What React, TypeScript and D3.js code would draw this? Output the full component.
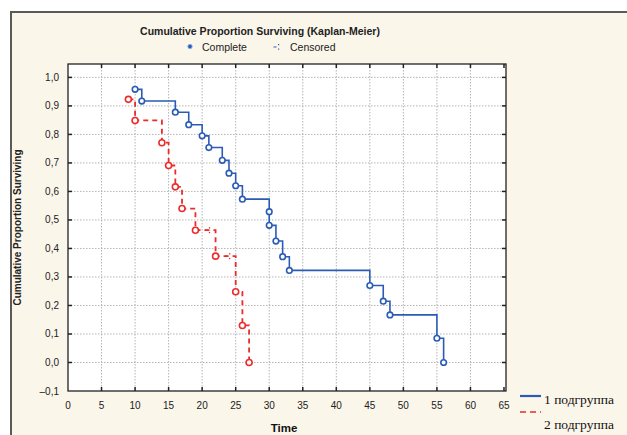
import { useEffect, useRef } from 'react'
import * as d3 from 'd3'

// group 1 (complete events)
const times1 = [10, 11, 16, 18, 20, 21, 23, 24, 25, 26, 30, 30, 31, 32, 33, 45, 47, 48, 55, 56]
const surv1 = [0.958, 0.917, 0.878, 0.834, 0.795, 0.754, 0.709, 0.664, 0.62, 0.573, 0.529, 0.481, 0.426, 0.371, 0.323, 0.27, 0.215, 0.167, 0.085, 0.0]

// group 2
const times2 = [9, 10, 14, 15, 16, 17, 19, 22, 25, 26, 27]
const surv2 = [0.923, 0.849, 0.771, 0.691, 0.616, 0.54, 0.464, 0.373, 0.248, 0.13, 0.0]
const censTimes2 = [21, 24]
const censSurv2 = [0.464, 0.373]

const xTicks = [0, 5, 10, 15, 20, 25, 30, 35, 40, 45, 50, 55, 60, 65]
const yTicks = [-0.1, 0, 0.1, 0.2, 0.3, 0.4, 0.5, 0.6, 0.7, 0.8, 0.9, 1.0]
const legendLabels = ['1 подгруппа', '2 подгруппа']

const BLUE = '#2a5cb6'
const RED = '#ec2b2b'
const FONT = 'Arial, "Liberation Sans", sans-serif'
const SERIF = '"Liberation Serif", "Times New Roman", serif'

export default function App() {
  const svgRef = useRef<SVGSVGElement>(null)

  useEffect(() => {
    const svg = d3.select(svgRef.current)
    svg.selectAll('*').remove()

    const W = 627, H = 435
    const left = 68, right = 506, top = 64, bottom = 391

    // outer panel
    svg.append('rect').attr('width', W).attr('height', H).attr('fill', '#fff')
    svg.append('rect')
      .attr('x', 11).attr('y', 12).attr('width', W).attr('height', H)
      .attr('fill', '#fbf6ea')
      .attr('stroke', '#5a5a5a').attr('stroke-width', 2)

    const x = d3.scaleLinear().domain([0, 65.3]).range([left, right])
    const y = d3.scaleLinear().domain([-0.1, 1.047]).range([bottom, top])

    // plot area
    svg.append('rect')
      .attr('x', left).attr('y', top)
      .attr('width', right - left).attr('height', bottom - top)
      .attr('fill', '#fff')

    // grid
    const grid = svg.append('g').attr('stroke', '#b4b4b4').attr('stroke-width', 1).attr('stroke-dasharray', '1.5,1.5')
    xTicks.filter(t => t > 0 && t < 65).forEach(t => {
      grid.append('line').attr('x1', x(t)).attr('x2', x(t)).attr('y1', top).attr('y2', bottom)
    })
    yTicks.filter(t => t > -0.1).forEach(t => {
      grid.append('line').attr('x1', left).attr('x2', right).attr('y1', y(t)).attr('y2', y(t))
    })

    // frame + inward ticks
    svg.append('rect')
      .attr('x', left).attr('y', top)
      .attr('width', right - left).attr('height', bottom - top)
      .attr('fill', 'none').attr('stroke', '#222').attr('stroke-width', 1.3)

    const ticks = svg.append('g').attr('stroke', '#222').attr('stroke-width', 1.5)
    xTicks.filter(t => t > 0).forEach(t => {
      ticks.append('line').attr('x1', x(t)).attr('x2', x(t)).attr('y1', top).attr('y2', top + 4)
      ticks.append('line').attr('x1', x(t)).attr('x2', x(t)).attr('y1', bottom).attr('y2', bottom - 4)
    })
    yTicks.filter(t => t > -0.1).forEach(t => {
      ticks.append('line').attr('x1', left).attr('x2', left + 4).attr('y1', y(t)).attr('y2', y(t))
      ticks.append('line').attr('x1', right).attr('x2', right - 4).attr('y1', y(t)).attr('y2', y(t))
    })

    // tick labels
    const fmt = (v: number) => (v < 0 ? '\u2013' : '') + d3.format('.1f')(Math.abs(v)).replace('.', ',')
    yTicks.forEach(t => {
      svg.append('text')
        .attr('x', 59).attr('y', y(t) + 3.5)
        .attr('text-anchor', 'end')
        .attr('font-family', FONT).attr('font-size', 10)
        .attr('fill', '#222')
        .text(fmt(t))
    })
    xTicks.forEach(t => {
      svg.append('text')
        .attr('x', x(t)).attr('y', 409)
        .attr('text-anchor', 'middle')
        .attr('font-family', FONT).attr('font-size', 10)
        .attr('fill', '#222')
        .text(t)
    })

    // titles
    svg.append('text')
      .attr('x', 260).attr('y', 35)
      .attr('text-anchor', 'middle')
      .attr('font-family', FONT).attr('font-size', 10.5).attr('font-weight', 'bold')
      .attr('fill', '#222')
      .text('Cumulative Proportion Surviving (Kaplan-Meier)')

    svg.append('circle').attr('cx', 190).attr('cy', 46.5).attr('r', 2.2)
      .attr('fill', BLUE).attr('stroke', '#8fb0e6').attr('stroke-width', 0.8)
    svg.append('text')
      .attr('x', 202).attr('y', 50.5)
      .attr('font-family', FONT).attr('font-size', 10.5)
      .attr('fill', '#222')
      .text('Complete')
    const cens = svg.append('g').attr('fill', BLUE)
    cens.append('rect').attr('x', 273.5).attr('y', 46.5).attr('width', 3).attr('height', 1)
    cens.append('rect').attr('x', 278).attr('y', 44).attr('width', 1.2).attr('height', 1.2)
    cens.append('rect').attr('x', 278).attr('y', 48.5).attr('width', 1.2).attr('height', 1.2)
    svg.append('text')
      .attr('x', 290).attr('y', 50.5)
      .attr('font-family', FONT).attr('font-size', 10.5)
      .attr('fill', '#222')
      .text('Censored')

    svg.append('text')
      .attr('transform', `translate(21,${(top + bottom) / 2}) rotate(-90)`)
      .attr('text-anchor', 'middle')
      .attr('font-family', FONT).attr('font-size', 10).attr('font-weight', 'bold')
      .attr('fill', '#222')
      .text('Cumulative Proportion Surviving')

    svg.append('text')
      .attr('x', 284).attr('y', 432)
      .attr('text-anchor', 'middle')
      .attr('font-family', FONT).attr('font-size', 11.5).attr('font-weight', 'bold')
      .attr('fill', '#111')
      .text('Time')

    // curves
    const line = d3.line<[number, number]>()
      .x(d => x(d[0]))
      .y(d => y(d[1]))
      .curve(d3.curveStepAfter)

    const pts1: [number, number][] = times1.map((t, i) => [t, surv1[i]])
    const pts2: [number, number][] = times2.map((t, i) => [t, surv2[i]])

    svg.append('path')
      .attr('d', line(pts1))
      .attr('fill', 'none').attr('stroke', BLUE).attr('stroke-width', 1.6)

    svg.append('path')
      .attr('d', line(pts2))
      .attr('fill', 'none').attr('stroke', RED).attr('stroke-width', 1.8)
      .attr('stroke-dasharray', '5,4')

    svg.append('g').selectAll('circle')
      .data(pts1).enter().append('circle')
      .attr('cx', d => x(d[0])).attr('cy', d => y(d[1])).attr('r', 2.8)
      .attr('fill', '#fff').attr('stroke', BLUE).attr('stroke-width', 1.6)

    svg.append('g').selectAll('circle')
      .data(pts2).enter().append('circle')
      .attr('cx', d => x(d[0])).attr('cy', d => y(d[1])).attr('r', 3)
      .attr('fill', '#fff').attr('stroke', RED).attr('stroke-width', 1.6)

    // censored marks on group 2
    censTimes2.forEach((t, i) => {
      const cx = x(t), cy = y(censSurv2[i])
      const g = svg.append('g').attr('fill', RED)
      g.append('rect').attr('x', cx - 4).attr('y', cy - 0.6).attr('width', 3).attr('height', 1.2)
      g.append('rect').attr('x', cx).attr('y', cy - 3).attr('width', 1.3).attr('height', 1.3)
      g.append('rect').attr('x', cx).attr('y', cy + 1.7).attr('width', 1.3).attr('height', 1.3)
    })

    // bottom legend
    svg.append('line')
      .attr('x1', 520).attr('x2', 541).attr('y1', 396).attr('y2', 396)
      .attr('stroke', BLUE).attr('stroke-width', 2.2)
    svg.append('line')
      .attr('x1', 520).attr('x2', 541).attr('y1', 412).attr('y2', 412)
      .attr('stroke', RED).attr('stroke-width', 1.6).attr('stroke-dasharray', '6,4')
    svg.append('text')
      .attr('x', 544).attr('y', 404)
      .attr('font-family', SERIF).attr('font-size', 13.5)
      .attr('fill', '#111')
      .text(legendLabels[0])
    svg.append('text')
      .attr('x', 544).attr('y', 429)
      .attr('font-family', SERIF).attr('font-size', 13.5)
      .attr('fill', '#111')
      .text(legendLabels[1])
  }, [])

  return (
    <div style={{ position: 'absolute', left: 0, top: 0 }}>
      <svg ref={svgRef} width={627} height={435} style={{ display: 'block' }} />
    </div>
  )
}
